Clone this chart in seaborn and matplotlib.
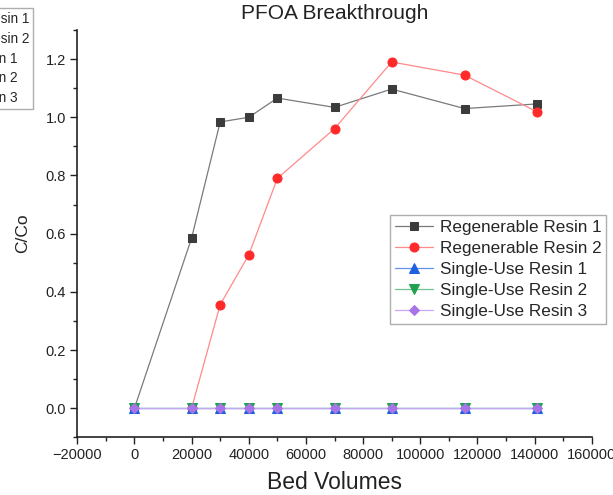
import seaborn as sns
import matplotlib.pyplot as plt
from matplotlib.ticker import MultipleLocator, FormatStrFormatter

# Bed volumes sampled
bed_volumes = [0, 20000, 30000, 40000, 50000, 70000, 90000, 115500, 141000]

regen_1 = [0.0, 0.585, 0.984, 1.0, 1.066, 1.034, 1.097, 1.03, 1.046]
regen_2_bv = [20000, 30000, 40000, 50000, 70000, 90000, 115500, 141000]
regen_2 = [0.0, 0.356, 0.527, 0.79, 0.961, 1.19, 1.145, 1.018]
single_1 = [0.0] * 9
single_2 = [0.0] * 9
single_3 = [0.0] * 9

series = [
    ("Regenerable Resin 1", bed_volumes, regen_1, 's', '#3c3c3c', '#7a7a7a', 5.8),
    ("Regenerable Resin 2", regen_2_bv, regen_2, 'o', '#ff2a2a', '#ff8a8a', 6.5),
    ("Single-Use Resin 1", bed_volumes, single_1, '^', '#2060e0', '#6090f0', 6.5),
    ("Single-Use Resin 2", bed_volumes, single_2, 'v', '#20a050', '#70c090', 6.5),
    ("Single-Use Resin 3", bed_volumes, single_3, 'D', '#a874e8', '#c8a8f0', 5.5),
]

sns.set_style('ticks')
plt.rcParams['font.family'] = ['Liberation Sans', 'DejaVu Sans']

fig = plt.figure(figsize=(6.13, 4.95), dpi=100)
ax = fig.add_axes([77.3 / 613, 57.7 / 495, 514.4 / 613, 407.3 / 495])

for name, xs, ys, mk, mcol, lcol, ms in series:
    sns.lineplot(x=xs, y=ys, ax=ax, label=name, marker=mk, color=lcol,
                 markerfacecolor=mcol, markeredgecolor=mcol, markersize=ms,
                 linewidth=0.9, sort=False, estimator=None)

ax.set_xlim(-20000, 160000)
ax.set_ylim(-0.1, 1.3)
ax.xaxis.set_major_locator(MultipleLocator(20000))
ax.xaxis.set_minor_locator(MultipleLocator(10000))
ax.yaxis.set_major_locator(MultipleLocator(0.2))
ax.yaxis.set_minor_locator(MultipleLocator(0.1))
ax.yaxis.set_major_formatter(FormatStrFormatter('%.1f'))
ax.tick_params(which='major', direction='out', length=5, width=1, labelsize=10.5,
               colors='#222222', pad=3)
ax.tick_params(which='minor', direction='out', length=3, width=1, colors='#222222')
for s in ['left', 'bottom']:
    ax.spines[s].set_linewidth(1.2)
    ax.spines[s].set_color('#222222')
sns.despine(ax=ax)

ax.set_title('PFOA Breakthrough', fontsize=15, color='#222222', pad=8)
ax.set_xlabel('Bed Volumes', fontsize=16.5, color='#222222', labelpad=6)
ax.set_ylabel('C/Co', fontsize=12.5, color='#222222', labelpad=11)

handles, labels = ax.get_legend_handles_labels()
leg_kw = dict(frameon=True, fancybox=False, edgecolor='#999999',
              handlelength=2.2, borderpad=0.3, handletextpad=0.4, borderaxespad=0)
leg = ax.legend(handles, labels, loc='upper left', bbox_to_anchor=(390 / 613, 1 - 215 / 495),
                bbox_transform=fig.transFigure, fontsize=12.3, labelspacing=0.35, **leg_kw)
leg.get_frame().set_linewidth(1.0)

# clipped legend from the neighbouring panel
leg2 = fig.legend(handles, labels, loc='upper right', bbox_to_anchor=(33 / 613, 1 - 8 / 495),
                  fontsize=9.8, labelspacing=0.42, **leg_kw)
leg2.get_frame().set_linewidth(1.0)

fig.savefig('out.png', dpi=100)
